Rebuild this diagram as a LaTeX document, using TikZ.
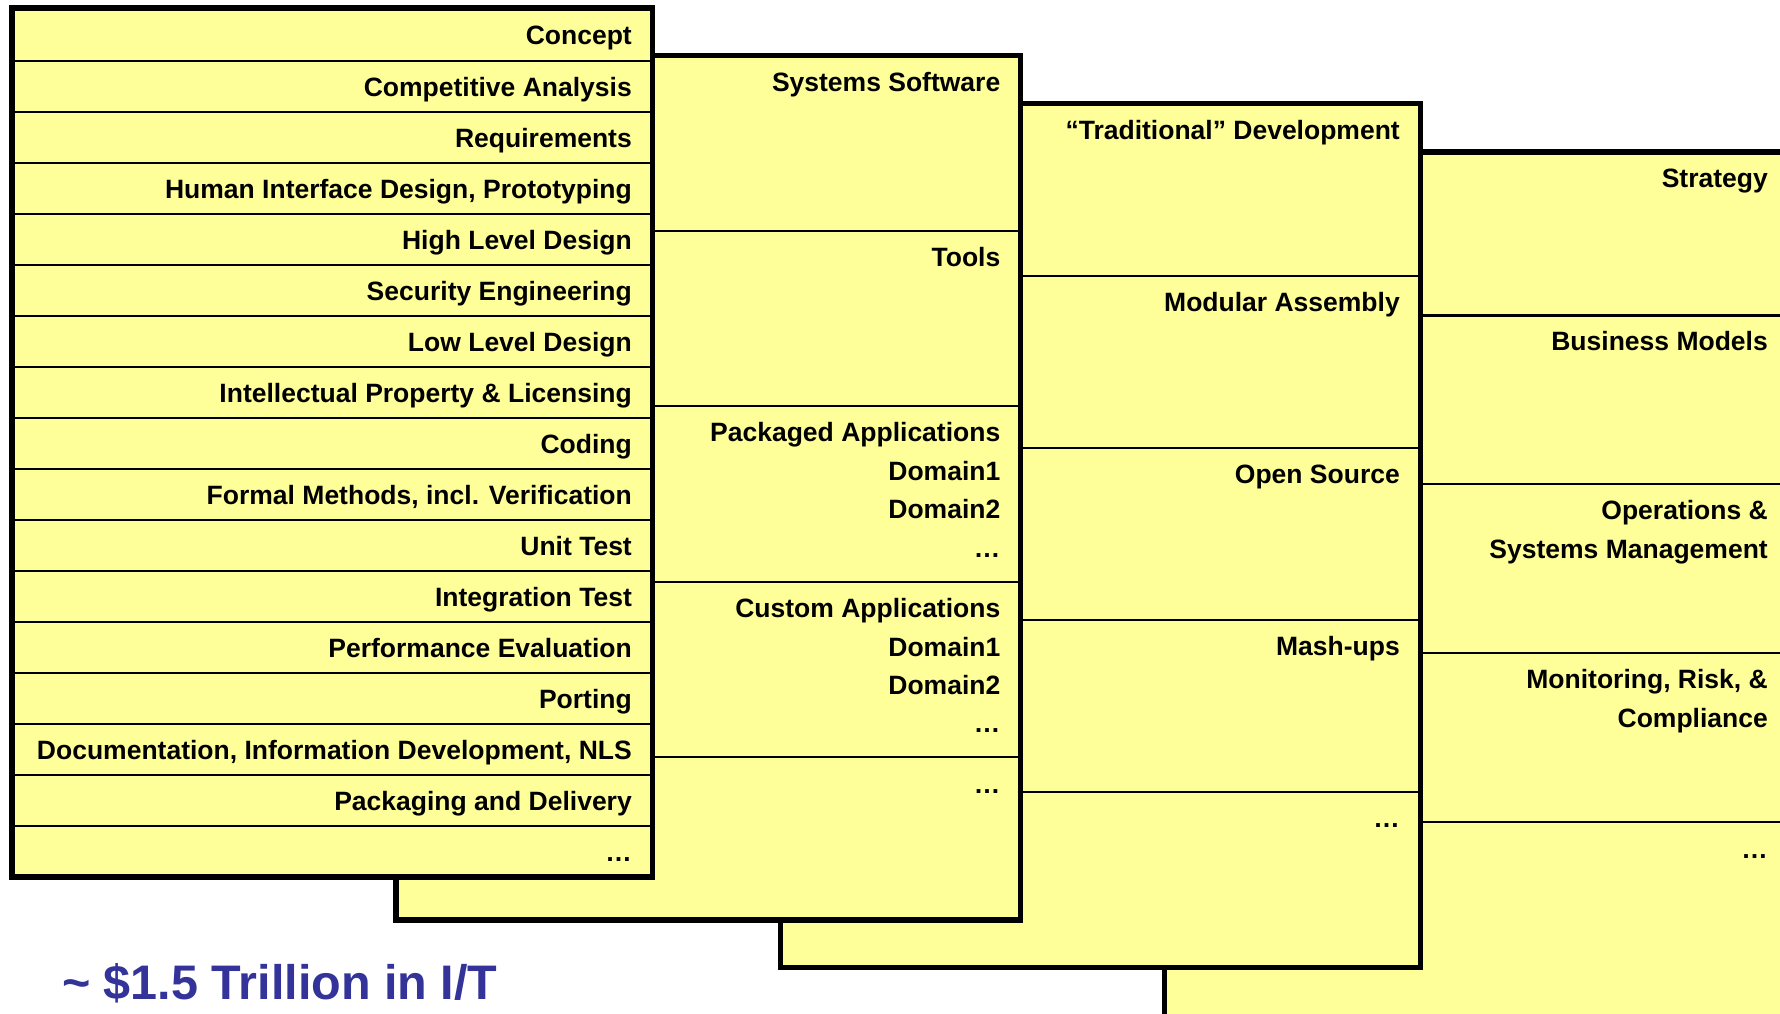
\documentclass[tikz,border=0pt]{standalone}
\usepackage{fontspec}
\setmainfont{Liberation Sans}
\definecolor{panelyellow}{RGB}{255,255,153}
\definecolor{titleblue}{RGB}{51,51,153}
\begin{document}
\begin{tikzpicture}[x=1pt,y=-1pt,
  panel/.style={fill=panelyellow,draw=black,line width=5.5pt},
  sep/.style={draw=black,line width=2.2pt},
  lbl/.style={anchor=base east,inner sep=0pt,font=\fontsize{26.5}{32}\selectfont\bfseries}]
\useasboundingbox (0,0) rectangle (1780,1013);
\clip (0,0) rectangle (1780,1013);

% ---------- panel 4 (back) ----------
\draw[panel] (1164.5,152) rectangle (1840,1070);
\foreach \y in {315.5,484,653,822} \draw[sep] (1164.5,\y) -- (1840,\y);
\node[lbl] (p4a) at (1768,187.5) {Strategy};
\node[lbl] (p4b) at (1768,350.5) {Business Models};
\node[lbl] (p4c) at (1768,519) {Operations \&};
\node[lbl] (p4d) at (1768,558) {Systems Management};
\node[lbl] (p4e) at (1768,688) {Monitoring, Risk, \&};
\node[lbl] (p4f) at (1768,727) {Compliance};
\node[lbl] (p4g) at (1768,858) {…};

% ---------- panel 3 ----------
\draw[panel] (780.5,103.5) rectangle (1420.5,967.5);
\foreach \y in {276,448,620,792} \draw[sep] (780.5,\y) -- (1420.5,\y);
\node[lbl] (p3a) at (1400,139) {“Traditional” Development};
\node[lbl] (p3b) at (1400,311.5) {Modular Assembly};
\node[lbl] (p3c) at (1400,483.5) {Open Source};
\node[lbl] (p3d) at (1400,655.5) {Mash-ups};
\node[lbl] (p3e) at (1400,827.5) {…};

% ---------- panel 2 ----------
\draw[panel] (396,55.5) rectangle (1020.5,920);
\foreach \y in {231,406,582,757} \draw[sep] (396,\y) -- (1020.5,\y);
\node[lbl] (p2a) at (1000.5,91) {Systems Software};
\node[lbl] (p2b) at (1000.5,266.5) {Tools};
\node[lbl] (p2c) at (1000.5,441.5) {Packaged Applications};
\node[lbl] (p2d) at (1000.5,480) {Domain1};
\node[lbl] (p2e) at (1000.5,518.5) {Domain2};
\node[lbl] (p2f) at (1000.5,557) {…};
\node[lbl] (p2g) at (1000.5,617) {Custom Applications};
\node[lbl] (p2h) at (1000.5,656) {Domain1};
\node[lbl] (p2i) at (1000.5,694) {Domain2};
\node[lbl] (p2j) at (1000.5,732) {…};
\node[lbl] (p2k) at (1000.5,793) {…};

% ---------- panel 1 (front) ----------
\draw[panel] (12,8) rectangle (652.5,877);
\foreach \k in {0,...,15} \draw[sep] (12,61+51*\k) -- (652.5,61+51*\k);
\node[lbl] (p1r1) at (632,44) {Concept};
\foreach \t [count=\i from 0] in {Competitive Analysis,Requirements,{Human Interface Design, Prototyping},High Level Design,Security Engineering,Low Level Design,Intellectual Property \& Licensing,Coding,{Formal Methods, incl. Verification},Unit Test,Integration Test,Performance Evaluation,Porting,{Documentation, Information Development, NLS},Packaging and Delivery,…}
  \node[lbl] (p1s\i) at (632,96.5+51*\i) {\t};

% ---------- caption ----------
\node[anchor=base west,inner sep=0pt,text=titleblue,font=\fontsize{48.5}{58}\selectfont\bfseries] (cap) at (62,999) {\textasciitilde{} \$1.5 Trillion in I/T};
\end{tikzpicture}
\end{document}
